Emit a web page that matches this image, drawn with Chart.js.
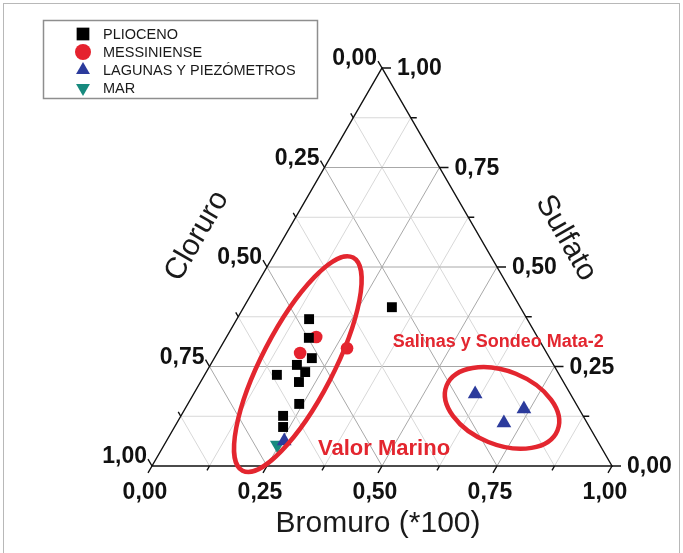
<!DOCTYPE html>
<html><head><meta charset="utf-8">
<script src="https://cdn.jsdelivr.net/npm/chart.js@4.4.0/dist/chart.umd.min.js"></script>
<style>html,body{margin:0;padding:0;background:#fff;}canvas{display:block}</style>
</head><body>
<canvas id="c" width="683" height="553"></canvas>
<script>
// ---- data (ternary fractions) ----
const seriesNames = ['PLIOCENO', 'MESSINIENSE', 'LAGUNAS Y PIEZÓMETROS', 'MAR'];
const pliocenoBromuro = [0.157, 0.180, 0.212, 0.188, 0.157, 0.215, 0.214, 0.242, 0.222, 0.236, 0.322];
const pliocenoSulfato = [0.369, 0.322, 0.271, 0.254, 0.229, 0.236, 0.211, 0.156, 0.126, 0.098, 0.399];
const pliocenoCloruro = [0.474, 0.498, 0.517, 0.558, 0.614, 0.549, 0.575, 0.602, 0.652, 0.666, 0.279];
const messinienseBromuro = [0.195, 0.180, 0.276];
const messinienseSulfato = [0.324, 0.284, 0.296];
const messinienseCloruro = [0.481, 0.536, 0.428];
const lagunasBromuro = [0.256, 0.612, 0.737, 0.711];
const lagunasSulfato = [0.063, 0.181, 0.143, 0.108];
const lagunasCloruro = [0.681, 0.207, 0.120, 0.181];
const marBromuro = [0.246];
const marSulfato = [0.053];
const marCloruro = [0.701];

const tickValues = [0, 0.25, 0.5, 0.75, 1];
const tickLabels = ['0,00', '0,25', '0,50', '0,75', '1,00'];
const minorTickValues = [0.125, 0.375, 0.625, 0.875];
const axisTitles = { bottom: 'Bromuro (*100)', left: 'Cloruro', right: 'Sulfato' };

// ellipses: centre in ternary (bromuro, sulfato), semi-axes in side units, angle in degrees
const ellipseCentreBromuro = [0.189, 0.688];
const ellipseCentreSulfato = [0.256, 0.146];
const ellipseSemiMajor = [0.261, 0.130];
const ellipseSemiMinor = [0.078, 0.080];
const ellipseAngle = [62.6, -22];
const noteTexts = ['Salinas y Sondeo Mata-2', 'Valor Marino'];
const noteBromuro = [0.374, 0.347];
const noteSulfato = [0.299, 0.028];

const SQ3 = Math.sqrt(3) / 2;
function toXY(br, cl, s) {
  const t = br + cl + s;
  const b = br / t, su = s / t;
  return { x: b + su / 2, y: su * SQ3 };
}
function pts(br, cl, s) { return br.map((v, i) => toXY(v, cl[i], s[i])); }

const RED = '#e5222e', BLUE = '#2c3b9c', TEAL = '#178a7e', ERED = '#e3262f';

const datasets = [
  { label: seriesNames[0], data: pts(pliocenoBromuro, pliocenoCloruro, pliocenoSulfato), pointStyle: 'rect', pointRadius: 7, backgroundColor: '#000', borderWidth: 0 },
  { label: seriesNames[1], data: pts(messinienseBromuro, messinienseCloruro, messinienseSulfato), pointStyle: 'circle', pointRadius: 6.3, backgroundColor: RED, borderWidth: 0 },
  { label: seriesNames[2], data: pts(lagunasBromuro, lagunasCloruro, lagunasSulfato), pointStyle: 'triangle', pointRadius: 8.5, backgroundColor: BLUE, borderWidth: 0 },
  { label: seriesNames[3], data: pts(marBromuro, marCloruro, marSulfato), pointStyle: 'triangle', pointRotation: 180, pointRadius: 8.5, backgroundColor: TEAL, borderWidth: 0 }
].map(d => Object.assign(d, { showLine: false, clip: false, pointBorderWidth: 0, pointHoverRadius: d.pointRadius }));

function marker(ctx, style, rot, r, x, y, color) {
  ctx.save();
  ctx.fillStyle = color;
  ctx.beginPath();
  if (style === 'rect') {
    const s = r * Math.SQRT1_2;
    ctx.rect(x - s, y - s, 2 * s, 2 * s);
  } else if (style === 'circle') {
    ctx.arc(x, y, r, 0, Math.PI * 2);
  } else {
    let a = (rot || 0) * Math.PI / 180;
    for (let i = 0; i < 3; i++) {
      const px = x + Math.sin(a) * r, py = y - Math.cos(a) * r;
      if (i === 0) ctx.moveTo(px, py); else ctx.lineTo(px, py);
      a += 2 * Math.PI / 3;
    }
    ctx.closePath();
  }
  ctx.fill();
  ctx.restore();
}

const ternaryPlugin = {
  id: 'ternary',
  beforeDatasetsDraw(chart) {
    const ctx = chart.ctx, xs = chart.scales.x, ys = chart.scales.y;
    const P = (br, s) => [xs.getPixelForValue(br + s / 2), ys.getPixelForValue(s * SQ3)];
    ctx.save();
    // outer frame
    ctx.strokeStyle = '#b8b8b8'; ctx.lineWidth = 1;
    ctx.strokeRect(3.5, 3.5, 676, 560);
    // grid
    const allGrid = [0.125, 0.25, 0.375, 0.5, 0.625, 0.75, 0.875];
    allGrid.forEach(v => {
      const major = tickValues.includes(v);
      ctx.strokeStyle = major ? '#a8a8a8' : '#d8d8d8';
      ctx.lineWidth = 1;
      const segs = [
        [P(0, v), P(1 - v, v)],
        [P(v, 0), P(v, 1 - v)],
        [P(1 - v, 0), P(0, 1 - v)]
      ];
      segs.forEach(([a, b]) => { ctx.beginPath(); ctx.moveTo(a[0], a[1]); ctx.lineTo(b[0], b[1]); ctx.stroke(); });
    });
    // triangle
    const A = P(0, 0), B = P(1, 0), C = P(0, 1);
    ctx.strokeStyle = '#111'; ctx.lineWidth = 1.4;
    ctx.beginPath(); ctx.moveTo(A[0], A[1]); ctx.lineTo(B[0], B[1]); ctx.lineTo(C[0], C[1]); ctx.closePath(); ctx.stroke();
    // ticks
    const all = tickValues.concat(minorTickValues);
    all.forEach(v => {
      const L = tickValues.includes(v) ? 8 : 5;
      const bot = P(v, 0), lef = P(0, 1 - v), rig = P(1 - v, v);
      ctx.beginPath();
      ctx.moveTo(bot[0], bot[1]); ctx.lineTo(bot[0] - 0.5 * L, bot[1] + SQ3 * L);
      ctx.moveTo(lef[0], lef[1]); ctx.lineTo(lef[0] - 0.5 * L, lef[1] - SQ3 * L);
      ctx.moveTo(rig[0], rig[1]); ctx.lineTo(rig[0] + L + 1, rig[1]);
      ctx.stroke();
    });
    // tick labels
    ctx.fillStyle = '#111';
    ctx.font = 'bold 23px "Liberation Sans", Arial, sans-serif';
    ctx.textBaseline = 'middle';
    tickValues.forEach((v, i) => {
      const bot = P(v, 0), lef = P(0, 1 - v), rig = P(1 - v, v);
      ctx.textAlign = 'center'; ctx.fillText(tickLabels[i], bot[0] - 7, bot[1] + 27);
      ctx.textAlign = 'right'; ctx.fillText(tickLabels[i], lef[0] - 5, lef[1] - 9);
      ctx.textAlign = 'left'; ctx.fillText(tickLabels[i], rig[0] + 15, rig[1] + 1);
    });
    // axis titles
    ctx.font = '30px "Liberation Sans", Arial, sans-serif';
    ctx.textAlign = 'center'; ctx.textBaseline = 'middle';
    ctx.fillStyle = '#1a1a1a';
    ctx.fillText(axisTitles.bottom, 378, 524);
    ctx.save(); ctx.translate(197, 236); ctx.rotate(-Math.PI / 3); ctx.fillText(axisTitles.left, 0, 0); ctx.restore();
    ctx.save(); ctx.translate(566, 238); ctx.rotate(Math.PI / 3); ctx.fillText(axisTitles.right, 0, 0); ctx.restore();
    ctx.restore();
  },
  afterDatasetsDraw(chart) {
    const ctx = chart.ctx, xs = chart.scales.x, ys = chart.scales.y;
    const P = (br, s) => [xs.getPixelForValue(br + s / 2), ys.getPixelForValue(s * SQ3)];
    const unit = xs.getPixelForValue(1) - xs.getPixelForValue(0);
    ctx.save();
    ctx.strokeStyle = ERED; ctx.lineWidth = 4.5;
    ellipseCentreBromuro.forEach((br, i) => {
      const c = P(br, ellipseCentreSulfato[i]);
      ctx.beginPath();
      ctx.ellipse(c[0], c[1], ellipseSemiMajor[i] * unit, ellipseSemiMinor[i] * unit, -ellipseAngle[i] * Math.PI / 180, 0, Math.PI * 2);
      ctx.stroke();
    });
    // notes
    ctx.fillStyle = ERED;
    ctx.textAlign = 'left'; ctx.textBaseline = 'alphabetic';
    const fonts = ['bold 18px "Liberation Sans", Arial, sans-serif', 'bold 22px "Liberation Sans", Arial, sans-serif'];
    noteTexts.forEach((t, i) => {
      const p = P(noteBromuro[i], noteSulfato[i]);
      ctx.font = fonts[i];
      ctx.fillText(t, p[0], p[1]);
    });
    // legend
    ctx.strokeStyle = '#8e8e8e'; ctx.lineWidth = 1.5;
    ctx.strokeRect(43.5, 20.5, 274, 78);
    ctx.font = '14.5px "Liberation Sans", Arial, sans-serif';
    ctx.textBaseline = 'middle';
    const rowY = [34, 52, 70, 88];
    chart.data.datasets.forEach((d, i) => {
      marker(ctx, d.pointStyle, d.pointRotation, d.pointStyle === 'rect' ? 9 : 8, 83, rowY[i], d.backgroundColor);
      ctx.fillStyle = '#1a1a1a';
      ctx.fillText(d.label, 103, rowY[i] + 1);
    });
    ctx.restore();
  }
};

new Chart(document.getElementById('c'), {
  type: 'scatter',
  data: { datasets },
  options: {
    responsive: false,
    animation: false,
    devicePixelRatio: 1,
    events: [],
    layout: { padding: { left: 152, right: 71, top: 68, bottom: 87 } },
    scales: {
      x: { type: 'linear', min: 0, max: 1, display: false },
      y: { type: 'linear', min: 0, max: SQ3, display: false }
    },
    plugins: { legend: { display: false }, tooltip: { enabled: false } }
  },
  plugins: [ternaryPlugin]
});
</script>
</body></html>
